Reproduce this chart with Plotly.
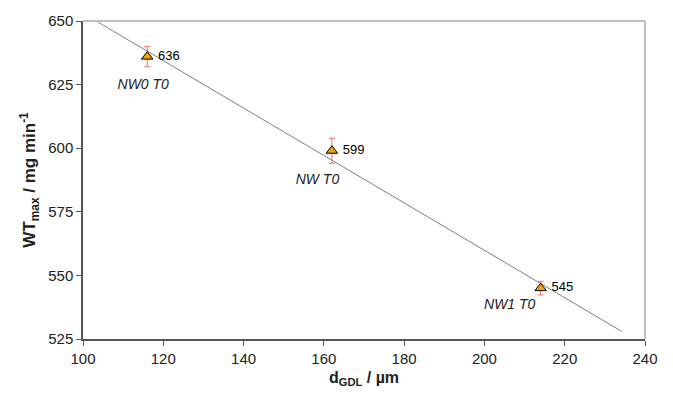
import plotly.graph_objects as go

# Data
d_gdl = [116, 162, 214]
wt_max = [636, 599, 545]
wt_err = [4.0, 4.9, 2.7]
value_labels = [" 636", " 599", " 545"]
sample_names = ["NW0 T0", "NW T0", "NW1 T0"]
name_x = [115, 158.4, 206.3]
name_y = [624.5, 587.3, 538]
fit_x = [103.8, 234.2]
fit_y = [649.5, 528.0]

x_ticks = [100, 120, 140, 160, 180, 200, 220, 240]
y_ticks = [525, 550, 575, 600, 625, 650]

FONT = "Liberation Sans, Arial, sans-serif"

fig = go.Figure()

fig.add_trace(go.Scatter(
    x=fit_x, y=fit_y, mode="lines",
    line=dict(color="#7f7f7f", width=1), hoverinfo="skip", showlegend=False))

fig.add_trace(go.Scatter(
    x=d_gdl, y=wt_max, mode="markers+text",
    marker=dict(symbol="triangle-up", size=10, color="#f5a000",
                line=dict(color="#000000", width=1)),
    error_y=dict(type="data", array=wt_err, visible=True,
                 color="#f07070", thickness=1, width=3),
    text=value_labels, textposition="middle right",
    textfont=dict(family=FONT, size=13, color="#000"),
    showlegend=False))

fig.add_trace(go.Scatter(
    x=name_x, y=name_y, mode="text", text=sample_names,
    textfont=dict(family=FONT, size=14, color="#222", style="italic"),
    showlegend=False, hoverinfo="skip"))

axis_font = dict(family=FONT, size=15, color="#222")

fig.update_layout(
    width=673, height=396,
    margin=dict(l=83, r=28, t=13, b=54),
    paper_bgcolor="white", plot_bgcolor="white",
    xaxis=dict(range=[100, 240], tickvals=x_ticks, showgrid=False, zeroline=False,
               showline=True, linecolor="#555", linewidth=1.5,
               ticks="outside", ticklen=5, tickcolor="#555",
               tickfont=axis_font,
               title=dict(text="<b>d<sub>GDL</sub> / µm</b>",
                          font=dict(family=FONT, size=16, color="#222"),
                          standoff=6)),
    yaxis=dict(range=[525, 650], tickvals=y_ticks, showgrid=False, zeroline=False,
               showline=True, linecolor="#555", linewidth=1.5,
               ticks="outside", ticklen=5, tickcolor="#555",
               tickfont=axis_font,
               title=dict(text="<b>WT<sub>max</sub> / mg min<sup>-1</sup></b>",
                          font=dict(family=FONT, size=17, color="#222"),
                          standoff=8)),
    shapes=[
        dict(type="line", xref="paper", yref="paper", x0=0, x1=1, y0=1, y1=1,
             line=dict(color="#aaaaaa", width=1.5)),
        dict(type="line", xref="paper", yref="paper", x0=1, x1=1, y0=0, y1=1,
             line=dict(color="#aaaaaa", width=1.5)),
    ],
)

fig.write_html("out.html")
